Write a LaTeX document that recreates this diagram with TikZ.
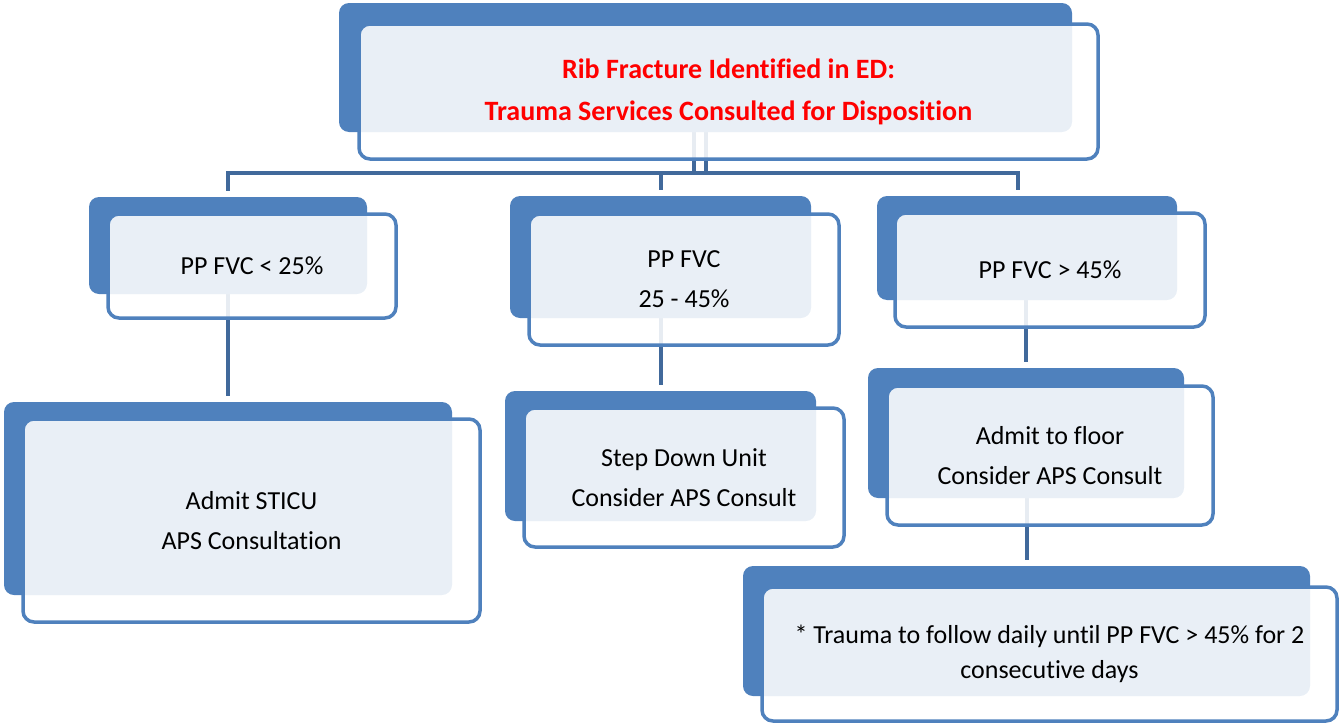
\documentclass[tikz,border=0pt]{standalone}
\usepackage{fontspec}
\setmainfont{Carlito}[Ligatures=NoCommon]
\usepackage{tikz}
\usetikzlibrary{calc}
\pgfdeclarelayer{background}
\pgfsetlayers{background,main}
\definecolor{boxblue}{RGB}{79,129,189}
\definecolor{linkblue}{RGB}{65,105,155}

\begin{document}
\begin{tikzpicture}[x=1pt,y=-1pt,
  back/.style={fill=boxblue,draw=none,rounded corners=10pt,inner sep=0pt},
  front/.style={draw=boxblue,line width=3.5pt,fill=white,fill opacity=0.88,text opacity=1,
    rounded corners=11pt,inner sep=0pt,align=center,font=\fontsize{26}{40}\selectfont},
  link/.style={draw=linkblue,line width=4pt}]
\useasboundingbox (0,0) rectangle (1339,723);
% top box
\node [back,minimum width=733pt,minimum height=129pt] (ribB) at (705.5,67.5) {};
\node [front,minimum width=739pt,minimum height=135pt,font=\fontsize{28}{42}\selectfont\bfseries,text=red]
  (rib) at (728.5,91.5) {Rib Fracture Identified in ED:\\Trauma Services Consulted for Disposition};
% PP FVC boxes
\node [back,minimum width=278pt,minimum height=97pt] (lowB) at (228,245.5) {};
\node [front,minimum width=288pt,minimum height=104pt] (low) at (252,266) {PP FVC < 25\%};
\node [back,minimum width=301pt,minimum height=122pt] (midB) at (660.5,257) {};
\node [front,minimum width=310pt,minimum height=131pt] (mid) at (684,279.5) {PP FVC\\25 - 45\%};
\node [back,minimum width=300pt,minimum height=104pt] (highB) at (1027,248) {};
\node [front,minimum width=310pt,minimum height=114pt] (high) at (1050,270) {PP FVC > 45\%};
% dispositions
\node [back,minimum width=448pt,minimum height=193pt] (sticuB) at (228,498.5) {};
\node [front,minimum width=457pt,minimum height=203pt] (sticu) at (251.5,520.5) {Admit STICU\\APS Consultation};
\node [back,minimum width=311pt,minimum height=130pt] (stepB) at (660.5,456) {};
\node [front,minimum width=320pt,minimum height=139pt] (stepdown) at (684,477.5) {Step Down Unit\\Consider APS Consult};
\node [back,minimum width=316pt,minimum height=130pt] (floorB) at (1026,433) {};
\node [front,minimum width=326pt,minimum height=139pt] (floor) at (1050,455.5) {Admit to floor\\Consider APS Consult};
\node [back,minimum width=567pt,minimum height=130pt] (traumaB) at (1026.5,631) {};
\node [front,minimum width=575pt,minimum height=134pt,font=\fontsize{26}{35}\selectfont]
  (trauma) at (1049.5,654) {* Trauma to follow daily until PP FVC > 45\% for 2\\consecutive days};

% connectors behind the boxes
\begin{pgfonlayer}{background}
\coordinate (bus) at (0,173);
\coordinate (ribTap) at ($(ribB.south)+(-12,0)$);
\coordinate (hiTap) at ($(highB.north)+(-9,0)$);
\draw [link] (ribB.south) -- (ribB.south |- bus);
\draw [link] (ribTap) -- (ribTap |- bus);
\draw [link,shorten <=6pt,shorten >=6pt] (lowB.north) -- (lowB.north |- bus) -- (hiTap |- bus) -- (hiTap);
\draw [link,shorten >=6pt] (midB.north |- bus) -- (midB.north);
\draw [link,shorten >=6pt] (lowB.south) -- (sticuB.north);
\draw [link,shorten >=6pt] (midB.south) -- (stepB.north);
\draw [link,shorten >=6pt] (floorB.north |- highB.south) -- (floorB.north);
\draw [link,shorten >=6pt] (traumaB.north |- floorB.south) -- (traumaB.north);
\end{pgfonlayer}
\end{tikzpicture}
\end{document}
